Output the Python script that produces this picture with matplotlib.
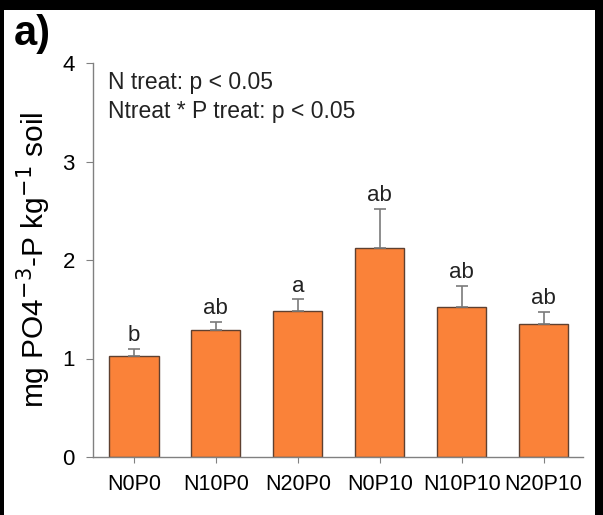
import matplotlib
matplotlib.use("Agg")
import matplotlib.pyplot as plt
from matplotlib.patches import Rectangle

plt.rcParams['font.family'] = ['Liberation Sans', 'DejaVu Sans']

treatments = ["N0P0", "N10P0", "N20P0", "N0P10", "N10P10", "N20P10"]
means = [1.03, 1.29, 1.48, 2.12, 1.52, 1.35]
errors = [0.07, 0.08, 0.12, 0.40, 0.22, 0.12]
letters = ["b", "ab", "a", "ab", "ab", "ab"]
stats_lines = ["N treat: p < 0.05", "Ntreat * P treat: p < 0.05"]

W, H = 603, 515
fig = plt.figure(figsize=(W / 100, H / 100), dpi=100)
ax = fig.add_axes([93 / W, 1 - 457 / H, (583 - 93) / W, (457 - 63) / H])

x = list(range(len(treatments)))
ax.bar(x, means, width=0.6, color="#FA8239", edgecolor="#5e4030", linewidth=1.0, zorder=2)
ax.errorbar(x, means, yerr=[[0] * len(errors), errors], fmt="none",
            ecolor="#7a7a7a", elinewidth=1.2, capsize=4, capthick=1.2, zorder=3)

for xi, m, e, lab in zip(x, means, errors, letters):
    ax.annotate(lab, (xi, m + e), xytext=(0, 2), textcoords="offset points",
                ha="center", va="bottom", fontsize=16, color="#222222")

ax.set_xlim(-0.5, 5.48)
ax.set_ylim(0, 4)
ax.set_yticks([0, 1, 2, 3, 4])
ax.set_xticks(x)
ax.set_xticklabels(treatments)

for side in ("top", "right"):
    ax.spines[side].set_visible(False)
for side in ("left", "bottom"):
    ax.spines[side].set_color("#808080")
    ax.spines[side].set_linewidth(1.0)

ax.tick_params(axis="y", direction="out", length=5, color="#808080", labelsize=16, pad=8)
ax.tick_params(axis="x", direction="out", length=4, color="#808080", labelsize=15.5, pad=8)

ax.set_ylabel(r"mg PO4$^{-3}$-P kg$^{-1}$ soil", fontsize=21.5, labelpad=7)

ax.text(0.03, 0.98, stats_lines[0], transform=ax.transAxes, fontsize=16.5,
        va="top", ha="left", color="#222222")
ax.text(0.03, 0.905, stats_lines[1], transform=ax.transAxes, fontsize=16.5,
        va="top", ha="left", color="#222222")

fig.text(14 / W, 1 - 14 / H, "a)", fontsize=30, fontweight="bold", ha="left", va="top")

# black frame around the panel
for (x0, y0, w, h) in [(0, H - 10, W, 10), (0, 0, 4, H), (W - 8, 0, 8, H)]:
    fig.patches.append(Rectangle((x0 / W, y0 / H), w / W, h / H, transform=fig.transFigure,
                                 facecolor="black", edgecolor="none", zorder=10))

fig.savefig("out.png", dpi=100)
